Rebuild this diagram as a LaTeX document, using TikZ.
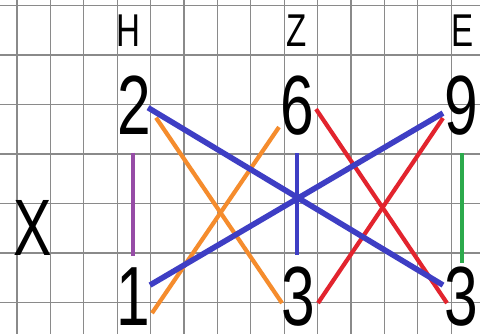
\documentclass[tikz,border=0pt]{standalone}
\usepackage{fontspec}
\usepackage{tikz}
\usetikzlibrary{calc}
\setmainfont{Liberation Sans}
\newfontfamily\narrowfont[FakeStretch=0.72]{Liberation Sans}
\definecolor{gridgray}{RGB}{138,138,138}
\definecolor{linkblue}{RGB}{62,62,196}
\definecolor{linkorange}{RGB}{245,140,45}
\definecolor{linkred}{RGB}{226,36,46}
\definecolor{linkpurple}{RGB}{150,76,166}
\definecolor{linkgreen}{RGB}{44,170,76}

\tikzset{
  gridline/.style={draw=gridgray, line width=1.2pt},
  digit/.style={inner sep=0pt, anchor=base, font=\narrowfont\fontsize{84}{84}\selectfont},
  letter/.style={inner sep=0pt, anchor=base, font=\narrowfont\fontsize{46}{46}\selectfont},
  link/.style={line width=4.2pt},
  thicklink/.style={line width=5.6pt},
  pairlink/.style={line width=3.6pt},
}

\begin{document}
\begin{tikzpicture}[x=1pt, y=-1pt]
  \useasboundingbox (0,0) rectangle (480,334);
  \fill[white] (0,0) rectangle (480,334);
  % grid
  \foreach \gx in {0,...,13}
    \draw[gridline] ({17+33.4*\gx},0) -- ({17+33.4*\gx},334);
  \foreach \gy in {0,...,6}
    \draw[gridline] (0,{5.5+49.5*\gy}) -- (480,{5.5+49.5*\gy});

  % headings
  \node[letter] (h) at (128,47) {H};
  \node[letter] (z) at (297,47) {Z};
  \node[letter] (e) at (463,47) {E};
  \node[digit, font=\narrowfont\fontsize{80}{80}\selectfont] (x) at (33,256) {X};

  % numbers
  \node[digit] (two) at (134,135) {2};
  \node[digit] (six) at (297,135) {6};
  \node[digit] (nine) at (461,135) {9};
  \node[digit] (one) at (133,326) {1};
  \node[digit] (threem) at (298,326) {3};
  \node[digit] (threer) at (461,326) {3};

  % straight pairs
  \draw[pairlink, linkpurple] ($(two.center)+(-1,47)$) -- ($(one.center)+(0,-41)$);
  \draw[pairlink, linkblue] ($(six.center)+(0,47)$) -- ($(threem.center)+(-1,-42)$);
  \draw[pairlink, linkgreen] ($(nine.center)+(1,47)$) -- ($(threer.center)+(1,-34)$);

  % crossings
  \draw[link, linkorange] ($(two.center)+(22,12)$) -- ($(threem.center)+(-16,6)$);
  \draw[link, linkorange] ($(one.center)+(19,16)$) -- ($(six.center)+(-18,21)$);
  \draw[link, linkred] ($(six.center)+(19,3)$) -- ($(threer.center)+(-14,6)$);
  \draw[link, linkred] ($(threem.center)+(20,6)$) -- ($(nine.center)+(-18,12)$);
  \draw[thicklink, linkblue] ($(two.center)+(14,2)$) -- ($(threer.center)+(-18,-12)$);
  \draw[thicklink, linkblue] ($(one.center)+(17,-12)$) -- ($(nine.center)+(-18,7)$);
\end{tikzpicture}
\end{document}
